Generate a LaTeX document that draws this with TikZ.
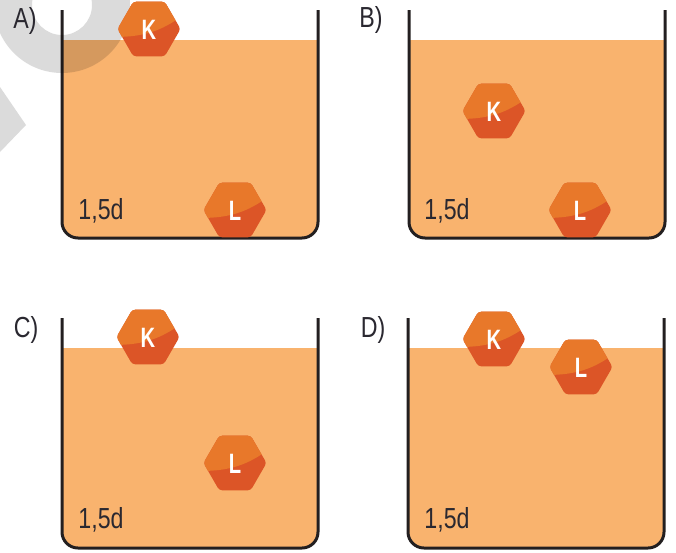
\documentclass[tikz,border=0pt]{standalone}
\usepackage{fontspec}
\setmainfont{Liberation Sans}[FakeStretch=0.8]
\newfontfamily\hexfont{Liberation Sans}[FakeStretch=0.72]
\definecolor{liq}{HTML}{F9B36E}
\definecolor{hexlight}{HTML}{E8782A}
\definecolor{hexdark}{HTML}{DC5527}
\definecolor{wallc}{HTML}{231F20}
\definecolor{txtc}{HTML}{2A2830}
\tikzset{
  wall/.style={draw=wallc, line width=3pt, rounded corners=16},
  liquid/.style={fill=liq, rounded corners=16},
  hexlabel/.style={text=white, font=\hexfont\bfseries\fontsize{28}{28}\selectfont, inner sep=0pt},
  optlabel/.style={text=txtc, font=\fontsize{29}{29}\selectfont, inner sep=0pt},
  vollabel/.style={text=txtc, font=\fontsize{29}{29}\selectfont, inner sep=0pt},
  wmark/.style={fill=black, opacity=0.14},
}
\newcommand\mybeaker[4]{%
  \begin{scope}
    \clip (#1,#3) rectangle (#1+256,#4+5);
    \fill[liquid] (#1,#3-40) rectangle (#1+256,#4);
  \end{scope}
  \draw[wall] (#1,#2) -- (#1,#4) -- (#1+256,#4) -- (#1+256,#2);
}
\newcommand\myhex[4]{%
  \begin{scope}[shift={(#2,#3)}]
    \begin{scope}
      \clip[rounded corners=3] (31.5,0) -- (15.75,27.3) -- (-15.75,27.3) -- (-31.5,0) -- (-15.75,-27.3) -- (15.75,-27.3) -- cycle;
      \fill[hexdark] (-35,-35) rectangle (35,35);
      \fill[hexlight] (-35,8) .. controls (-5,8) and (12,2) .. (33,-13) -- (35,-35) -- (-35,-35) -- cycle;
    \end{scope}
    \node[hexlabel] (#1) at (0,1) {#4};
  \end{scope}
}
\begin{document}
\begin{tikzpicture}[x=1pt,y=-1pt]
\useasboundingbox (0,0) rectangle (676,552);
\fill[white] (0,0) rectangle (676,552);

% beakers
\mybeaker{62}{10}{40}{238}
\mybeaker{409}{10}{40}{238}
\mybeaker{62}{318}{348}{548}
\mybeaker{408}{318}{348}{548}

% watermark
\fill[wmark, even odd rule] (62,5) circle[radius=68] (62,5) circle[radius=30];
\fill[wmark] (0,87) -- (26,125) -- (0,152) -- cycle;

% option labels
\node[optlabel] (lA) at (25,21) {A)};
\node[optlabel] (lB) at (371,20) {B)};
\node[optlabel] (lC) at (26,330) {C)};
\node[optlabel] (lD) at (373,330) {D)};

% volume labels
\node[vollabel] (vA) at (101,211) {1,5d};
\node[vollabel] (vB) at (447,211) {1,5d};
\node[vollabel] (vC) at (101,520) {1,5d};
\node[vollabel] (vD) at (447,520) {1,5d};

% objects
\myhex{KA}{149}{29}{K}
\myhex{LA}{235}{210}{L}
\myhex{KB}{494}{111}{K}
\myhex{LB}{580}{210}{L}
\myhex{KC}{148}{337}{K}
\myhex{LC}{235}{463}{L}
\myhex{KD}{494}{339}{K}
\myhex{LD}{581}{367}{L}
\end{tikzpicture}
\end{document}
